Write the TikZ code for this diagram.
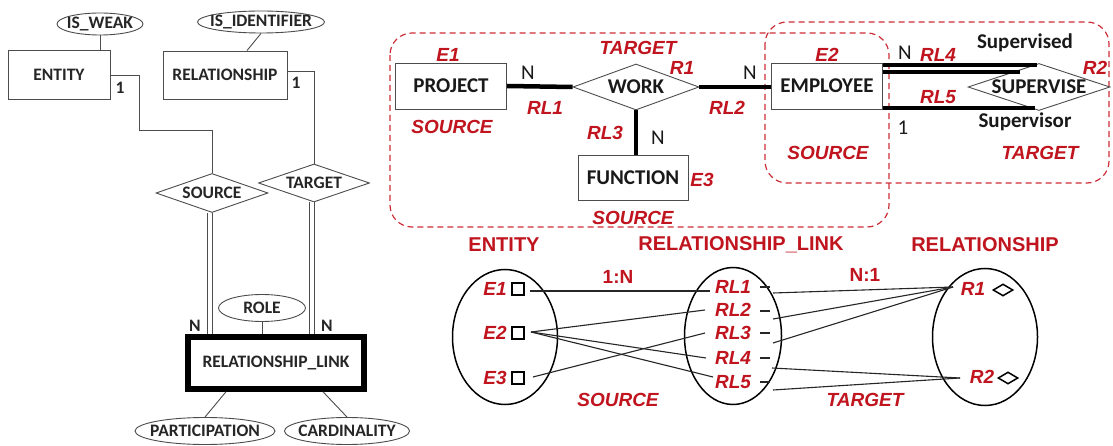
\documentclass[tikz,border=0pt]{standalone}
\usepackage{fontspec}
\setmainfont{Carlito}
\newfontfamily\arialf{Liberation Sans}
\usetikzlibrary{shapes.geometric}
\definecolor{rd}{RGB}{192,20,30}
\definecolor{rdl}{RGB}{205,45,55}
\tikzset{
  lbl/.style={font=\fontsize{17.5}{17.5}\selectfont\bfseries, text=black!85, inner sep=0},
  biglbl/.style={font=\fontsize{21}{21}\selectfont\bfseries, text=black!90, inner sep=0},
  numlbl/.style={font=\fontsize{21}{21}\selectfont, text=black!90, inner sep=0},
  redlbl/.style={font=\arialf\bfseries\itshape\fontsize{19}{19}\selectfont, text=rd, inner sep=0},
  redup/.style={font=\arialf\bfseries\fontsize{19}{19}\selectfont, text=rd, inner sep=0},
  redhead/.style={font=\arialf\bfseries\fontsize{20}{20}\selectfont, text=rd, inner sep=0},
  gline/.style={draw=black!70, line width=0.9},
  erbox/.style={draw=black!70, line width=0.9, rectangle, inner sep=0},
  attr/.style={draw=black!70, line width=0.9, ellipse, inner sep=0},
  reln/.style={draw=black!70, line width=0.9, diamond, inner sep=0},
  tk/.style={draw=black, line width=4.5},
  tkd/.style={draw=black, line width=3.5},
  sq/.style={draw=black, line width=1.6, rectangle, minimum size=12, inner sep=0},
  mk/.style={draw=black, line width=1.5, diamond, minimum width=20, minimum height=12, inner sep=0},
  setell/.style={draw=black, line width=1.5, ellipse, inner sep=0},
  cn/.style={draw=black!85, line width=1.1},
  dbox/.style={draw=rdl, line width=1.2, dash pattern=on 6pt off 4pt, rounded corners=22},
}
\begin{document}
\begin{tikzpicture}[x=1pt,y=-1pt]
\useasboundingbox (0,0) rectangle (1113,446);
\fill[white] (0,0) rectangle (1113,446);

% ---------------- left ER model ----------------
\node[attr, minimum width=86, minimum height=22] (isweak) at (100,24) {};
\node[lbl] (isweakT) at (isweak) {IS\_WEAK};
\node[erbox, minimum width=102, minimum height=49, lbl] (entity) at (59,75) {ENTITY};
\draw[gline] (isweak.south) -- (isweak.south |- entity.north);

\node[attr, minimum width=127, minimum height=22] (isid) at (261,22) {};
\node[lbl] (isidT) at (isid) {IS\_IDENTIFIER};
\node[erbox, minimum width=124, minimum height=48, lbl] (relat) at (225,75) {RELATIONSHIP};
\draw[gline] (isid.south) -- ([xshift=22pt]relat.north);

\node[reln, minimum width=112, minimum height=39] (srcd) at (212,193) {};
\node[lbl] (srcdT) at (srcd) {SOURCE};
\node[reln, minimum width=111, minimum height=38] (tgtd) at (314,183) {};
\node[lbl] (tgtdT) at (tgtd) {TARGET};

\draw[gline] (entity.east) -- ++(29,0) -- ++(0,55) -| (srcd.north);
\draw[gline] ([yshift=4pt]relat.east) -| (tgtd.north);
\node[lbl] (one1) at (120,88) {1};
\node[lbl] (one2) at (296,83) {1};

\node[draw=black, line width=5.5, rectangle, minimum width=176, minimum height=52, lbl] (rlink) at (276,363) {RELATIONSHIP\_LINK};
\node[attr, minimum width=87, minimum height=27] (role) at (262,308) {};
\node[lbl] (roleT) at (role) {ROLE};
\draw[gline] (role.south) -- (role.south |- rlink.north);

\draw[gline, double, double distance=4pt] ([xshift=-2pt]srcd.south) -- ([xshift=-2pt]srcd.south |- rlink.north);
\draw[gline, double, double distance=4pt] ([xshift=-2pt]tgtd.south) -- ([xshift=-2pt]tgtd.south |- rlink.north);
\node[lbl] (n1) at (195,326) {N};
\node[lbl] (n2) at (327,326) {N};

\node[attr, minimum width=140, minimum height=27] (part) at (205,431) {};
\node[lbl] (partT) at (part) {PARTICIPATION};
\node[attr, minimum width=125, minimum height=27] (card) at (347,431) {};
\node[lbl] (cardT) at (card) {CARDINALITY};
\draw[gline] ([xshift=-50pt]rlink.south) -- (part.north);
\draw[gline] ([xshift=47pt]rlink.south) -- (card.north);

% ---------------- top-right example ----------------
\draw[dbox] (390,33) rectangle (889,227);
\draw[dbox] (765,22) rectangle (1109,183);

\node[erbox, minimum width=111, minimum height=46, biglbl] (proj) at (451,86) {PROJECT};
\node[reln, minimum width=126, minimum height=46] (work) at (636,87) {};
\node[biglbl] (workT) at (work) {WORK};
\node[erbox, minimum width=111, minimum height=46, biglbl] (emp) at (827,86) {EMPLOYEE};
\node[erbox, minimum width=110, minimum height=45, biglbl] (func) at (633,178) {FUNCTION};
\node[reln, minimum width=142, minimum height=47] (sup) at (1039,87) {};
\node[biglbl] (supT) at (sup) {SUPERVISE};

\draw[tk] (proj.east) -- (work.west);
\draw[tk] (work.east) -- (emp.west |- work.east);
\draw[tk] (work.south) -- (work.south |- func.north);

\coordinate (s4a) at (1037,65);
\coordinate (s4b) at (1020,72);
\coordinate (s5) at (1035,108);
\draw[tkd] (emp.east |- s4a) -- (s4a);
\draw[tkd] (emp.east |- s4b) -- (s4b);
\draw[tkd] (emp.east |- s5) -- (s5);

\node[redlbl] (tE1) at (448,55) {E1};
\node[redlbl] (tTG1) at (638,48) {TARGET};
\node[redlbl] (tR1) at (682,68) {R1};
\node[numlbl] (tN1) at (528,73) {N};
\node[redlbl] (tRL1) at (545,108) {RL1};
\node[redlbl] (tSC1) at (452,127) {SOURCE};
\node[numlbl] (tN2) at (750,73) {N};
\node[redlbl] (tRL2) at (727,108) {RL2};
\node[redlbl] (tRL3) at (605,133) {RL3};
\node[numlbl] (tN3) at (658,138) {N};
\node[redlbl] (tE3) at (702,180) {E3};
\node[redlbl] (tSC2) at (633,218) {SOURCE};
\node[redlbl] (tE2) at (827,55) {E2};
\node[redlbl] (tSC3) at (828,153) {SOURCE};
\node[numlbl] (tN4) at (905,53) {N};
\node[redlbl] (tRL4) at (938,55) {RL4};
\node[biglbl] (tSupd) at (1025,43) {Supervised};
\node[redlbl] (tR2) at (1095,68) {R2};
\node[redlbl] (tRL5) at (938,97) {RL5};
\node[numlbl] (tOne) at (903,128) {1};
\node[biglbl] (tSupr) at (1025,122) {Supervisor};
\node[redlbl] (tTG2) at (1040,153) {TARGET};

% ---------------- bottom-right instance diagram ----------------
\node[redhead] (hEnt) at (504,245) {ENTITY};
\node[redhead] (hRL) at (741,245) {RELATIONSHIP\_LINK};
\node[redhead] (hRel) at (985,245) {RELATIONSHIP};

\node[setell, minimum width=105, minimum height=135] (entE) at (505,337) {};
\node[setell, minimum width=97, minimum height=137] (rlE) at (733,336) {};
\node[setell, minimum width=105, minimum height=137] (relE) at (985,337) {};

\node[redlbl] (bE1) at (495,289) {E1};
\node[redlbl] (bE2) at (495,333) {E2};
\node[redlbl] (bE3) at (495,378) {E3};
\node[sq] (q1) at (518,289) {};
\node[sq] (q2) at (518,333) {};
\node[sq] (q3) at (518,378) {};

\node[redlbl] (bRL1) at (733,287) {RL1};
\node[redlbl] (bRL2) at (733,310) {RL2};
\node[redlbl] (bRL3) at (733,333) {RL3};
\node[redlbl] (bRL4) at (733,358) {RL4};
\node[redlbl] (bRL5) at (733,382) {RL5};
\foreach \n/\y in {1/287,2/311,3/333,4/358,5/382}{
  \draw[cn, line width=1.3] (760,\y) -- (770,\y);
}

\node[redlbl] (bR1) at (973,289) {R1};
\node[redlbl] (bR2) at (982,377) {R2};
\node[mk] (d1) at (1003,290) {};
\node[mk] (d2) at (1008,378) {};

\node[redup] (b1N) at (618,277) {1:N};
\node[redlbl] (bSC) at (618,400) {SOURCE};
\node[redup] (bN1) at (865,275) {N:1};
\node[redlbl] (bTG) at (865,400) {TARGET};

% connectors entity -> relationship_link
\coordinate (a1) at (530,291);
\coordinate (a2) at (531,332);
\coordinate (a3) at (533,377);
\coordinate (l1) at (710,291);
\coordinate (l2) at (705,310);
\coordinate (l3) at (705,333);
\coordinate (l4) at (706,358);
\coordinate (l5) at (713,377);
\draw[cn] (a1) -- (l1);
\draw[cn] (a2) -- (l2);
\draw[cn] (a2) -- (l4);
\draw[cn] (a2) -- (l5);
\draw[cn] (a3) -- (l3);

% connectors relationship_link -> relationship
\coordinate (m1) at (773,293);
\coordinate (m2) at (773,319);
\coordinate (m3) at (773,343);
\coordinate (m4) at (772,368);
\coordinate (m5) at (773,390);
\coordinate (r1) at (953,287);
\coordinate (r2) at (960,378);
\draw[cn] (m1) -- (r1);
\draw[cn] (m2) -- (r1);
\draw[cn] (m3) -- (r1);
\draw[cn] (m4) -- (r2);
\draw[cn] (m5) -- (r2);
\end{tikzpicture}
\end{document}
